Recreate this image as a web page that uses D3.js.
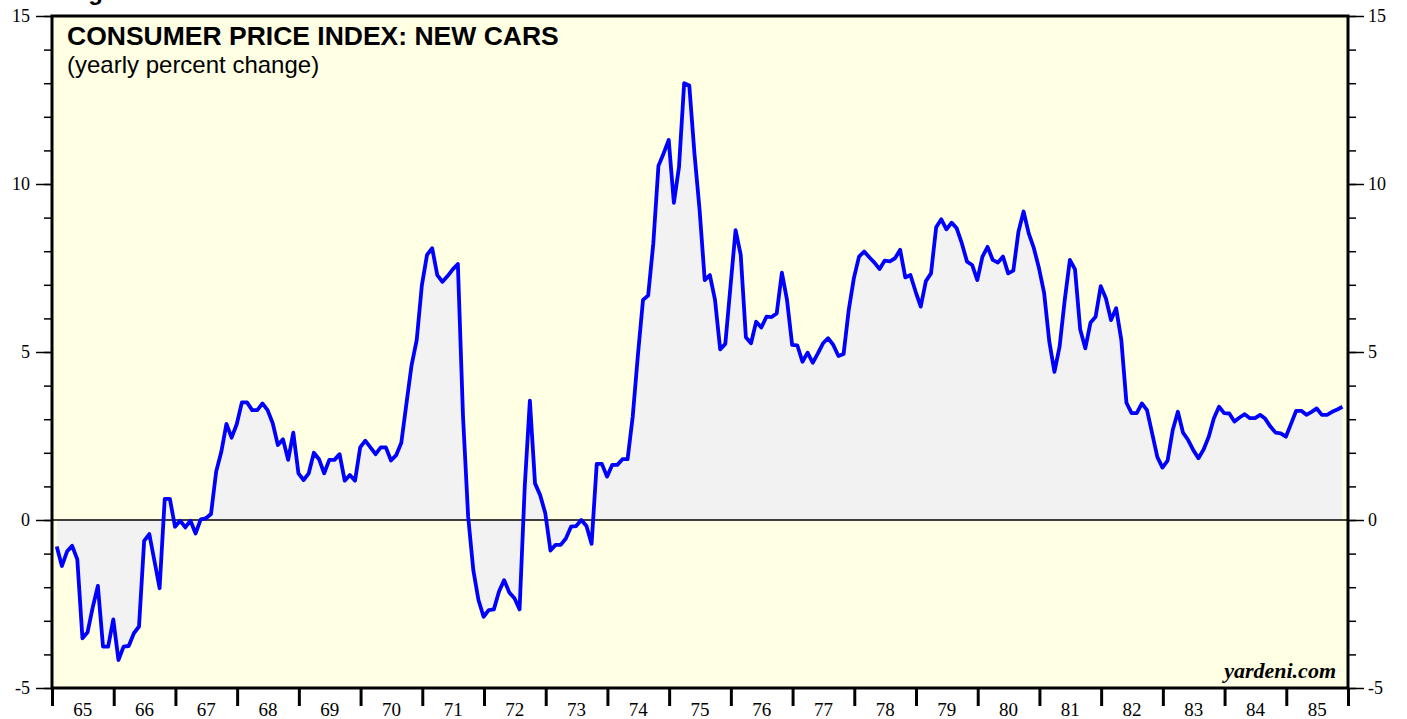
<!DOCTYPE html>
<html>
<head>
<meta charset="utf-8">
<script src="https://cdn.jsdelivr.net/npm/d3@7"></script>
<style>
  body { margin: 0; background: #fff; }
  .tick-label { font-family: "Liberation Serif", "Times New Roman", serif; fill: #000; }
</style>
</head>
<body>
<script>
// yearly % change, monthly, Jan 1965 - Nov 1985
var cpiNewCars = [
  -0.79, -1.37, -0.94, -0.77, -1.17, -3.52, -3.34, -2.6, -1.96, -3.77, -3.77, -2.96,
  -4.17, -3.77, -3.75, -3.37, -3.17, -0.62, -0.42, -1.22, -2.03, 0.63, 0.63, -0.2,
  -0.02, -0.22, -0.02, -0.4, 0.02, 0.05, 0.18, 1.44, 2.03, 2.86, 2.45, 2.85,
  3.5, 3.5, 3.27, 3.27, 3.47, 3.27, 2.88, 2.23, 2.4, 1.79, 2.6, 1.39,
  1.19, 1.39, 2.0, 1.81, 1.39, 1.79, 1.79, 1.96, 1.17, 1.34, 1.17, 2.16,
  2.36, 2.16, 1.96, 2.16, 2.16, 1.77, 1.93, 2.3, 3.47, 4.61, 5.36, 6.99,
  7.89, 8.09, 7.29, 7.09, 7.26, 7.46, 7.62, 3.08, 0.1, -1.49, -2.38, -2.88,
  -2.68, -2.66, -2.13, -1.79, -2.16, -2.33, -2.66, 0.99, 3.55, 1.09, 0.74, 0.2,
  -0.91, -0.74, -0.74, -0.55, -0.2, -0.18, 0.0, -0.18, -0.71, 1.67, 1.67, 1.29,
  1.64, 1.64, 1.81, 1.81, 3.08, 4.9, 6.55, 6.68, 8.23, 10.54, 10.91, 11.31,
  9.44, 10.51, 13.0, 12.93, 10.91, 9.23, 7.14, 7.29, 6.55, 5.08, 5.24, 6.94,
  8.63, 7.89, 5.44, 5.26, 5.9, 5.73, 6.05, 6.04, 6.15, 7.36, 6.55, 5.21,
  5.2, 4.71, 4.98, 4.68, 4.96, 5.26, 5.41, 5.21, 4.88, 4.94, 6.25, 7.2,
  7.84, 7.99, 7.82, 7.66, 7.47, 7.72, 7.7, 7.79, 8.04, 7.22, 7.29, 6.8,
  6.35, 7.11, 7.34, 8.71, 8.95, 8.65, 8.85, 8.68, 8.23, 7.69, 7.59, 7.14,
  7.84, 8.13, 7.74, 7.66, 7.84, 7.34, 7.42, 8.58, 9.18, 8.53, 8.09, 7.49,
  6.75, 5.31, 4.41, 5.16, 6.55, 7.74, 7.46, 5.68, 5.11, 5.87, 6.05, 6.96,
  6.6, 5.95, 6.3, 5.36, 3.49, 3.18, 3.18, 3.47, 3.27, 2.58, 1.88, 1.56,
  1.77, 2.68, 3.22, 2.6, 2.38, 2.08, 1.84, 2.1, 2.48, 3.03, 3.37, 3.18,
  3.17, 2.93, 3.05, 3.15, 3.03, 3.03, 3.13, 3.01, 2.78, 2.6, 2.58, 2.48,
  2.86, 3.25, 3.25, 3.13, 3.22, 3.32, 3.13, 3.13, 3.22, 3.29, 3.37
];
var startYear = 1965;
var yearLabels = ["65","66","67","68","69","70","71","72","73","74","75",
                  "76","77","78","79","80","81","82","83","84","85"];
var yMajorTicks = [-5, 0, 5, 10, 15];
var yMinorTicks = d3.range(-5, 16, 1);

var margin = {top: 16, right: 59, bottom: 31, left: 52};
var totalW = 1407, totalH = 719;
var width = totalW - margin.left - margin.right;
var height = totalH - margin.top - margin.bottom;

var x = d3.scaleLinear().domain([startYear, startYear + yearLabels.length]).range([0, width]);
var y = d3.scaleLinear().domain([-5, 15]).range([height, 0]);

var svgRoot = d3.select("body").append("svg")
    .attr("width", totalW)
    .attr("height", totalH);

// figure caption, mostly cut off at the top edge (as in the source)
svgRoot.append("text")
    .attr("x", 67).attr("y", 0)
    .style("font-family", "Liberation Sans, Arial, sans-serif")
    .style("font-weight", "bold")
    .style("font-size", "24px")
    .text("Figure 5");

var svg = svgRoot.append("g")
    .attr("transform", "translate(" + margin.left + "," + margin.top + ")");

svg.append("rect")
    .attr("width", width).attr("height", height)
    .attr("fill", "#ffffe4");

var pts = cpiNewCars.map(function(v, i) {
    return {t: startYear + (i + 0.92) / 12, v: v};
});

var area = d3.area()
    .x(function(d) { return x(d.t); })
    .y0(y(0))
    .y1(function(d) { return y(d.v); });

svg.append("path")
    .datum(pts)
    .attr("d", area)
    .attr("fill", "#f2f2f2");

svg.append("line")
    .attr("x1", 0).attr("x2", width)
    .attr("y1", y(0)).attr("y2", y(0))
    .attr("stroke", "#000").attr("stroke-width", 1.3);

var line = d3.line()
    .x(function(d) { return x(d.t); })
    .y(function(d) { return y(d.v); });

svg.append("path")
    .datum(pts)
    .attr("d", line)
    .attr("fill", "none")
    .attr("stroke", "#0000ff")
    .attr("stroke-width", 3.8)
    .attr("stroke-linejoin", "round");

// y axes: minor ticks every 1, major every 5
var yAxisL = d3.axisLeft(y).tickValues(yMinorTicks)
    .tickSize(8).tickFormat("");
var yAxisR = d3.axisRight(y).tickValues(yMinorTicks)
    .tickSize(8).tickFormat("");

var gl = svg.append("g").call(yAxisL);
var gr = svg.append("g").attr("transform", "translate(" + width + ",0)").call(yAxisR);
[gl, gr].forEach(function(g) {
    g.select(".domain").remove();
    g.selectAll("line").attr("stroke", "#000").attr("stroke-width", 1.5);
});

var plainNum = function(d) { return String(d); }; // hyphen, not unicode minus
var glMaj = svg.append("g")
    .call(d3.axisLeft(y).tickValues(yMajorTicks).tickSize(16).tickPadding(6).tickFormat(plainNum));
var grMaj = svg.append("g").attr("transform", "translate(" + width + ",0)")
    .call(d3.axisRight(y).tickValues(yMajorTicks).tickSize(16).tickPadding(4).tickFormat(plainNum));
[glMaj, grMaj].forEach(function(g) {
    g.select(".domain").remove();
    g.selectAll("line").attr("stroke", "#000").attr("stroke-width", 1.5);
    g.selectAll("text")
        .attr("class", "tick-label")
        .style("font-size", "18px");
});

// x axis: year boundaries with labels centred in each year
var yearBounds = d3.range(startYear, startYear + yearLabels.length + 1);
var gx = svg.append("g")
    .attr("transform", "translate(0," + height + ")")
    .call(d3.axisBottom(x).tickValues(yearBounds).tickSize(18).tickFormat(""));
gx.select(".domain").remove();
gx.selectAll("line").attr("stroke", "#000").attr("stroke-width", 3);

svg.append("g").selectAll("text")
    .data(yearLabels)
    .enter().append("text")
    .attr("class", "tick-label")
    .attr("x", function(d, i) { return x(startYear + i + 0.5); })
    .attr("y", height + 28)
    .attr("text-anchor", "middle")
    .style("font-size", "19px")
    .text(function(d) { return d; });

// frame
svg.append("rect")
    .attr("width", width).attr("height", height)
    .attr("fill", "none")
    .attr("stroke", "#000").attr("stroke-width", 3);

svg.append("text")
    .attr("x", 15).attr("y", 29)
    .style("font-family", "Liberation Sans, Arial, sans-serif")
    .style("font-weight", "bold")
    .style("font-size", "26.5px")
    .text("CONSUMER PRICE INDEX: NEW CARS");

svg.append("text")
    .attr("x", 15).attr("y", 57)
    .style("font-family", "Liberation Sans, Arial, sans-serif")
    .style("font-size", "24px")
    .text("(yearly percent change)");

svg.append("text")
    .attr("x", width - 12).attr("y", height - 10)
    .attr("text-anchor", "end")
    .style("font-family", "Liberation Serif, Times New Roman, serif")
    .style("font-weight", "bold")
    .style("font-style", "italic")
    .style("font-size", "22px")
    .text("yardeni.com");
</script>
</body>
</html>
